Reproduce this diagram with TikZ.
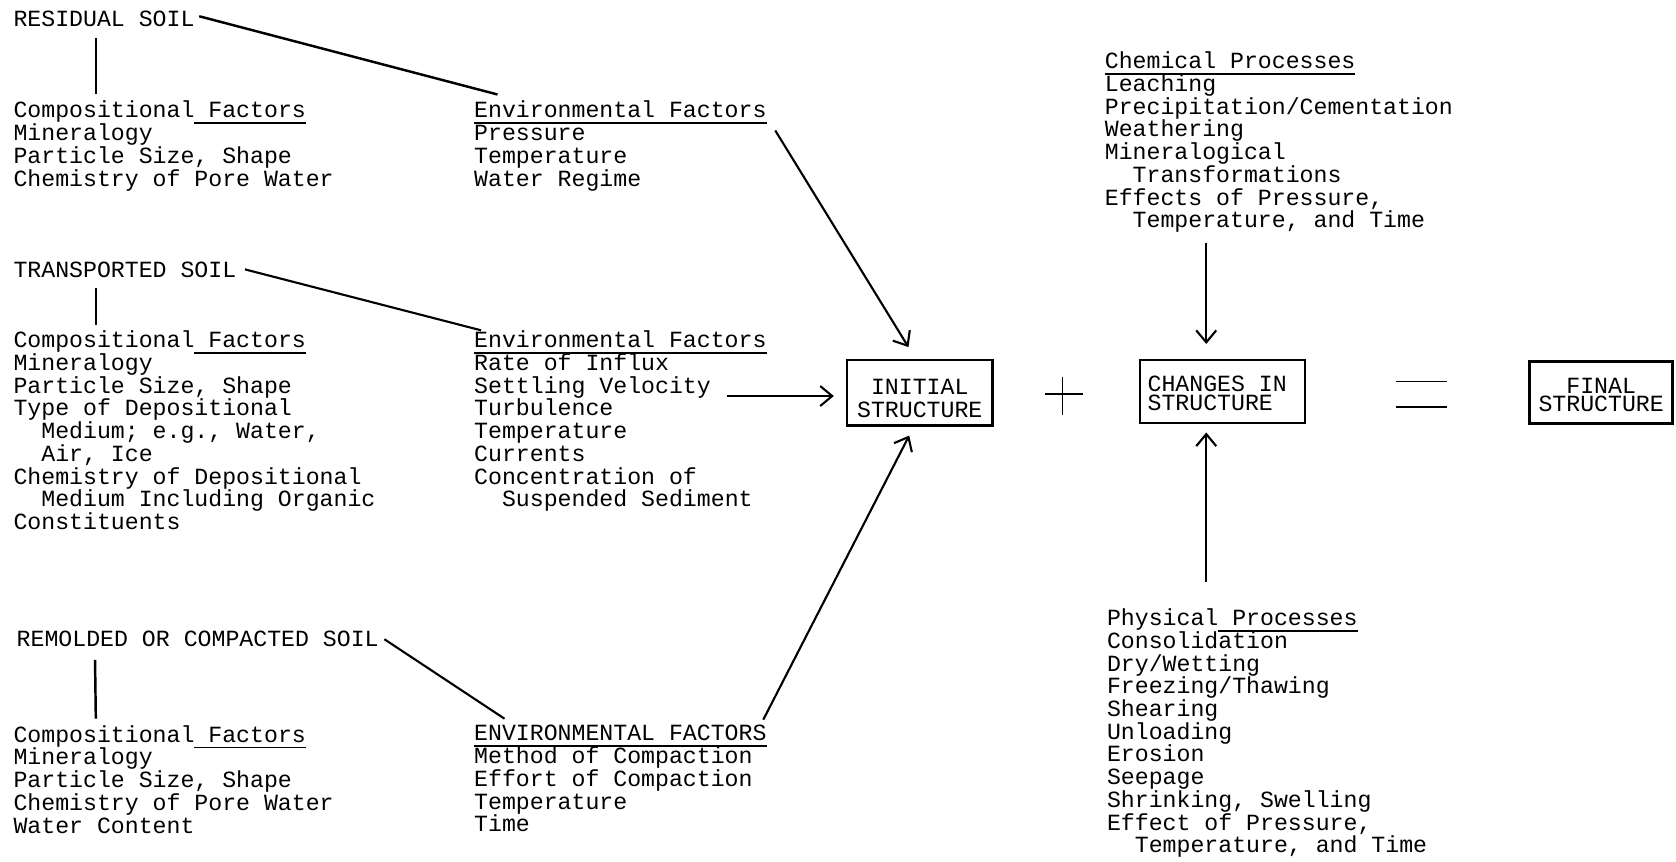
\documentclass[tikz,border=0pt]{standalone}
\usepackage{fontspec}
\setmonofont{Liberation Mono}
\usetikzlibrary{arrows.meta}
\newcommand{\ulin}[1]{\rlap{\smash{\underline{\phantom{#1}}}}#1}
\newcommand{\tightls}{\lineskiplimit=-5pt\relax}

\begin{document}
\begin{tikzpicture}[x=0.10689mm, y=-0.10689mm,
    txt/.style={font=\ttfamily\fontsize{6.6}{6.46}\selectfont, align=left, inner sep=0pt},
    box/.style={draw, line width=0.7pt, inner sep=0pt},
    arr/.style={line width=0.6pt, arrows={-{Straight Barb[length=1.2mm, width=2mm]}}}]
    \useasboundingbox (0,0) rectangle (1568,806);
    % residual soil
    \node [txt, anchor=west] (res) at (12,18) {RESIDUAL SOIL};
    \node [txt, anchor=north west] (comp1) at (12,94) {Compositional\ulin{\ Factors}\\Mineralogy\\Particle Size, Shape\\Chemistry of Pore Water};
    \node [txt, anchor=north west] (env1) at (443,94) {\ulin{Environmental Factors}\\Pressure\\Temperature\\Water Regime};
    \draw [line width=0.7pt] ([xshift=0.4mm,yshift=0.3mm]res.east) -- ([xshift=2.4mm,yshift=0.6mm]env1.north west);
    \draw [line width=0.7pt] ([xshift=8.3mm,yshift=-1mm]res.south west) -- ([xshift=8.3mm,yshift=0.6mm]comp1.north west);
    % transported soil
    \node [txt, anchor=west] (trans) at (12,252) {TRANSPORTED SOIL};
    \node [txt, anchor=north west] (comp2) at (12,309) {Compositional\ulin{\ Factors}\\Mineralogy\\Particle Size, Shape\\Type of Depositional\\\ \ Medium; e.g., Water,\\\ \ Air, Ice\\Chemistry of Depositional\\\ \ Medium Including Organic\\Constituents};
    \node [txt, anchor=north west] (env2) at (443,309) {\ulin{Environmental Factors}\\Rate of Influx\\Settling Velocity\\Turbulence\\Temperature\\Currents\\Concentration of\\\ \ Suspended Sediment};
    \draw [line width=0.6pt] ([xshift=0.8mm]trans.east) -- ([xshift=0.75mm]env2.north west);
    \draw [line width=0.7pt] ([xshift=8.3mm,yshift=-1mm]trans.south west) -- ([xshift=8.3mm,yshift=0.5mm]comp2.north west);
    % remolded soil
    \node [txt, anchor=west] (remold) at (15,598) {REMOLDED OR COMPACTED SOIL};
    \node [txt, anchor=north west] (comp3) at (12,678) {Compositional\ulin{\ Factors}\\Mineralogy\\Particle Size, Shape\\Chemistry of Pore Water\\Water Content};
    \node [txt, anchor=north west] (env3) at (443,678) {\ulin{ENVIRONMENTAL FACTORS}\\Method of Compaction\\Effort of Compaction\\Temperature\\Time};
    \draw [line width=0.6pt] ([xshift=0.5mm]remold.east) -- ([xshift=3.1mm,yshift=0.6mm]env3.north west);
    \draw [line width=0.7pt] ([xshift=7.9mm,yshift=-1.2mm]remold.south west) -- ([xshift=8.3mm,yshift=0.6mm]comp3.north west);
    % structure boxes
    \node [box, minimum width=14.54mm, minimum height=6.52mm] (init) at (860.5,367.5) {};
    \node [txt, align=center, font=\ttfamily\fontsize{6.6}{6.55}\selectfont] (inittxt) at (860.5,373) {INITIAL\\STRUCTURE};
    \node [box, minimum width=16.51mm, minimum height=6.25mm] (chg) at (1143.75,366.25) {};
    \node [txt, anchor=north west, font=\ttfamily\fontsize{6.6}{5.4}\selectfont\tightls] (chgtxt) at (1073,351) {CHANGES IN\\STRUCTURE};
    \node [box, minimum width=14.3mm, minimum height=6.2mm] (final) at (1498,367) {};
    \node [txt, align=center, font=\ttfamily\fontsize{6.6}{5.4}\selectfont\tightls] (finaltxt) at (1498,369.5) {FINAL\\STRUCTURE};
    \draw [line width=0.5pt] (978,368.8) -- (1013,368.8) (994,352.5) -- (994,388);
    \draw [line width=0.5pt] (1306,357) -- (1354,357) (1306,381) -- (1354,381);
    % processes
    \node [txt, anchor=north west] (chem) at (1033,48) {\ulin{Chemical Processes}\\Leaching\\Precipitation/Cementation\\Weathering\\Mineralogical\\\ \ Transformations\\Effects of Pressure,\\\ \ Temperature, and Time};
    \node [txt, anchor=north west] (phys) at (1035,569) {Physical\ulin{\ Processes}\\Consolidation\\Dry/Wetting\\Freezing/Thawing\\Shearing\\Unloading\\Erosion\\Seepage\\Shrinking, Swelling\\Effect of Pressure,\\\ \ Temperature, and Time};
    % arrows
    \coordinate (sv) at (680,370.5);
    \coordinate (ct) at ([xshift=-1.63mm]chg.north);
    \coordinate (cb) at ([xshift=-1.63mm]chg.south);
    \draw [arr, shorten >=1.2mm] (sv) -- (sv -| init.west);
    \draw [arr, shorten >=1.4mm] ([xshift=0.8mm,yshift=-3mm]env1.north east) -- ([xshift=-0.4mm]init.north);
    \draw [arr, shorten >=1mm] ([xshift=-0.4mm,yshift=0.5mm]env3.north east) -- ([xshift=-0.6mm]init.south);
    \draw [arr, shorten <=1mm, shorten >=1.5mm] (chem.south -| ct) -- (ct);
    \draw [arr, shorten <=2.6mm, shorten >=0.85mm] (phys.north -| cb) -- (cb);
\end{tikzpicture}
\end{document}
